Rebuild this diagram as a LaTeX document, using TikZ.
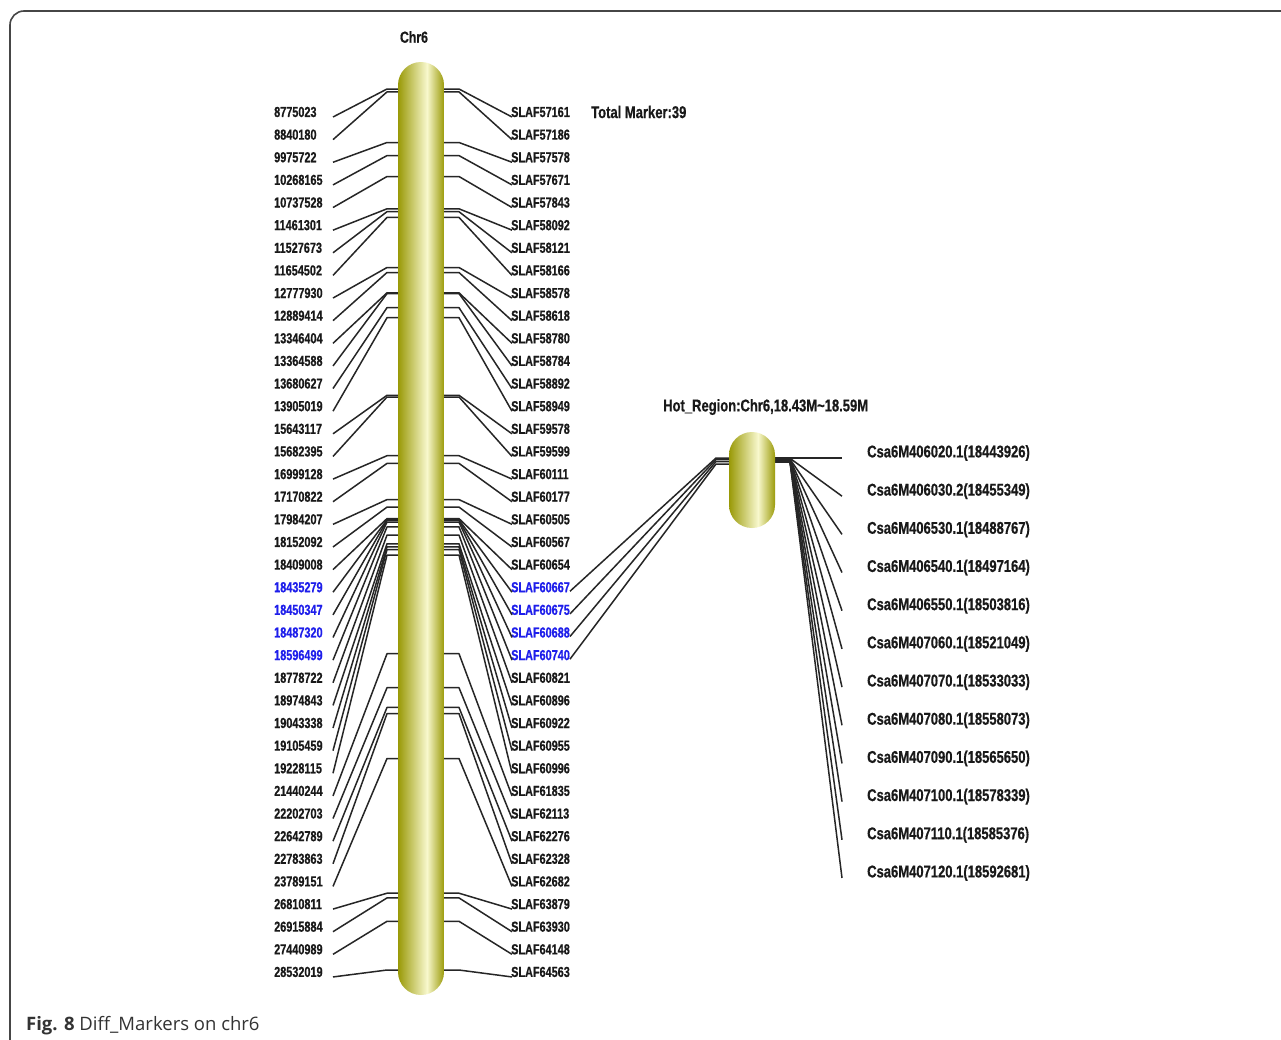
\documentclass[tikz,border=0pt]{standalone}
\usepackage{fontspec}
\setmainfont{Liberation Sans}
\newfontfamily\nf[FakeStretch=0.75, BoldFeatures={FakeBold=0.6}]{Liberation Sans}
\newfontfamily\nfb[FakeStretch=0.765, BoldFeatures={FakeBold=0.6}]{Liberation Sans}
\newfontfamily\capf{Open Sans}
\definecolor{mk}{RGB}{25,25,25}
\definecolor{mb}{RGB}{30,30,235}
\definecolor{olD}{RGB}{150,150,0}
\definecolor{olM}{RGB}{195,195,50}
\definecolor{olL}{RGB}{248,248,205}
\definecolor{frame}{RGB}{70,70,70}
\tikzset{
  lab/.style={inner sep=0pt, anchor=west, font=\nf\bfseries\fontsize{14.5}{16}\selectfont},
  big/.style={inner sep=0pt, anchor=west, font=\nfb\bfseries\fontsize{17}{19}\selectfont, text=mk},
  conn/.style={line width=1.5pt, draw=black!85, line join=round},
}
\begin{document}
\begin{tikzpicture}[x=1pt,y=-1pt]
\useasboundingbox (0,0) rectangle (1281,1039);
\fill[white] (0,0) rectangle (1281,1039);
% frame
\coordinate (FB) at (10,1070);
\coordinate (FC) at (10,11);
\coordinate (FR) at (1320,11);
\draw[line width=1.6pt, draw=frame, rounded corners=14pt] (FB) -- (FC) -- (FR);

% titles
\node[inner sep=0pt, font=\nfb\bfseries\fontsize{16}{18}\selectfont, text=mk] (chr) at (414,37) {Chr6};
\node[big] (total) at (591,112) {Total Marker:39};
\node[big] (hot) at (663,407) {Hot\_Region:Chr6,18.43M\textasciitilde18.59M};

% markers on the main chromosome
\foreach \lab/\slaf/\my/\col [count=\i from 0] in {
8775023/SLAF57161/89.0/mk,
8840180/SLAF57186/91.9/mk,
9975722/SLAF57578/142.5/mk,
10268165/SLAF57671/155.6/mk,
10737528/SLAF57843/176.5/mk,
11461301/SLAF58092/208.8/mk,
11527673/SLAF58121/211.7/mk,
11654502/SLAF58166/217.4/mk,
12777930/SLAF58578/267.5/mk,
12889414/SLAF58618/272.5/mk,
13346404/SLAF58780/292.8/mk,
13364588/SLAF58784/293.6/mk,
13680627/SLAF58892/307.7/mk,
13905019/SLAF58949/317.7/mk,
15643117/SLAF59578/395.3/mk,
15682395/SLAF59599/397.0/mk,
16999128/SLAF60111/455.7/mk,
17170822/SLAF60177/463.4/mk,
17984207/SLAF60505/499.6/mk,
18152092/SLAF60567/507.1/mk,
18409008/SLAF60654/518.6/mk,
18435279/SLAF60667/519.8/mb,
18450347/SLAF60675/520.4/mb,
18487320/SLAF60688/522.1/mb,
18596499/SLAF60740/526.9/mb,
18778722/SLAF60821/535.1/mk,
18974843/SLAF60896/543.8/mk,
19043338/SLAF60922/546.9/mk,
19105459/SLAF60955/549.6/mk,
19228115/SLAF60996/555.1/mk,
21440244/SLAF61835/653.7/mk,
22202703/SLAF62113/687.7/mk,
22642789/SLAF62276/707.4/mk,
22783863/SLAF62328/713.6/mk,
23789151/SLAF62682/758.5/mk,
26810811/SLAF63879/893.2/mk,
26915884/SLAF63930/897.9/mk,
27440989/SLAF64148/921.3/mk,
28532019/SLAF64563/970.0/mk}{
  \pgfmathsetmacro\ly{112+\i*22.63}
  \node[lab,text=\col] (L\i) at (274,\ly) {\lab};
  \node[lab,text=\col] (R\i) at (511,\ly) {\slaf};
  \coordinate (LE\i) at (333,\ly+5);
  \coordinate (LK\i) at (387,\my);
  \coordinate (LC\i) at (402,\my);
  \coordinate (RC\i) at (440,\my);
  \coordinate (RK\i) at (459,\my);
  \coordinate (RE\i) at (512,\ly+5);
  \draw[conn] (LE\i) -- (LK\i) -- (LC\i);
  \draw[conn] (RE\i) -- (RK\i) -- (RC\i);
}

% main chromosome
\begin{scope}
  \clip[rounded corners=23pt] (398,62) rectangle (444,995);
  \shade[left color=olD, middle color=olM, right color=olL] (397,50) rectangle (427,1000);
  \shade[left color=olL, middle color=olM, right color=olD] (427,50) rectangle (445,1000);
\end{scope}

% hot region links
\foreach \i/\hk in {21/458,22/459.5,23/461.5,24/464}{
  \pgfmathsetmacro\ly{112+\i*22.63+4}
  \coordinate (HB\i) at (570,\ly);
  \coordinate (HK\i) at (716,\hk);
  \coordinate (HC\i) at (733,\hk);
  \draw[conn] (HB\i) -- (HK\i) -- (HC\i);
}

% genes
\foreach \g/\gk [count=\j from 0] in {
Csa6M406020.1(18443926)/458.0,
Csa6M406030.2(18455349)/458.3,
Csa6M406530.1(18488767)/459.2,
Csa6M406540.1(18497164)/459.4,
Csa6M406550.1(18503816)/459.6,
Csa6M407060.1(18521049)/460.1,
Csa6M407070.1(18533033)/460.4,
Csa6M407080.1(18558073)/461.1,
Csa6M407090.1(18565650)/461.3,
Csa6M407100.1(18578339)/461.6,
Csa6M407110.1(18585376)/461.8,
Csa6M407120.1(18592681)/462.0}{
  \pgfmathsetmacro\gy{453+\j*38.18}
  \node[big] (G\j) at (867,\gy) {\g};
  \coordinate (GS\j) at (771,\gk);
  \coordinate (GK\j) at (790,\gk);
  \coordinate (GE\j) at (842,\gy+5);
  \draw[conn] (GS\j) -- (GK\j) -- (GE\j);
}

% hot region chromosome
\begin{scope}
  \clip[rounded corners=23pt] (729,432) rectangle (775,528);
  \shade[left color=olD, middle color=olM, right color=olL] (728,420) rectangle (758,540);
  \shade[left color=olL, middle color=olM, right color=olD] (758,420) rectangle (776,540);
\end{scope}

% caption
\node[inner sep=0pt, anchor=base west, font=\capf\fontsize{18.5}{21}\selectfont, text=black!80] (cap) at (26,1030) {\textbf{Fig. 8} Diff\_Markers on chr6};
\end{tikzpicture}
\end{document}
